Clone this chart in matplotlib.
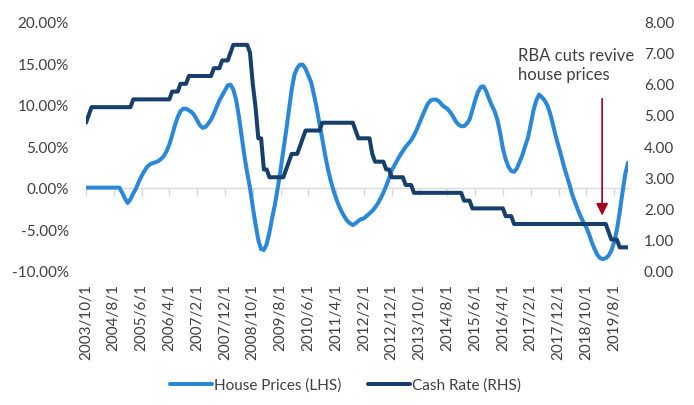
"""
House prices vs RBA cash rate, monthly 2003/10 - 2020/1
"""

import matplotlib
matplotlib.use('Agg')
import matplotlib.pyplot as plt
import numpy as np
import pandas as pd

plt.rcParams['font.family'] = ['Lato', 'DejaVu Sans']

# House price growth (% y/y, LHS), one row per calendar year, monthly from 2003/10
house_prices = [
    0.0, 0.0, 0.0,                                                        # 2003
    0.0, 0.0, 0.0, 0.0, 0.0, 0.0, 0.0, 0.0, 0.0, 0.0, -0.6, -1.3,         # 2004
    -1.85, -1.4, -0.7, -0.1, 0.7, 1.4, 2.0, 2.5, 2.8, 2.95, 3.05, 3.2,    # 2005
    3.45, 3.8, 4.4, 5.2, 6.3, 7.5, 8.5, 9.2, 9.5, 9.5, 9.3, 9.1,          # 2006
    8.7, 8.1, 7.5, 7.2, 7.3, 7.7, 8.2, 8.9, 9.7, 10.5, 11.1, 11.7,        # 2007
    12.3, 12.4, 11.8, 10.6, 8.6, 6.2, 3.8, 1.8, 0.0, -2.3, -4.4, -6.3,    # 2008
    -7.4, -7.5, -6.8, -5.4, -3.6, -2.0, 0.0, 2.1, 4.5, 6.8, 9.3, 11.8,    # 2009
    13.6, 14.4, 14.8, 14.8, 14.3, 13.5, 12.7, 11.2, 9.6, 7.7, 5.9, 4.0,   # 2010
    2.3, 0.9, -0.3, -1.3, -2.2, -2.9, -3.5, -4.0, -4.3, -4.5, -4.3, -4.0, # 2011
    -3.8, -3.7, -3.4, -3.1, -2.8, -2.4, -1.9, -1.3, -0.6, 0.2, 1.1, 2.1,  # 2012
    2.7, 3.3, 3.9, 4.4, 4.9, 5.3, 5.7, 6.3, 7.0, 7.8, 8.6, 9.4,           # 2013
    10.1, 10.5, 10.6, 10.6, 10.4, 10.0, 9.7, 9.5, 9.1, 8.6, 8.0, 7.6,     # 2014
    7.4, 7.4, 7.7, 8.2, 9.3, 10.5, 11.5, 12.1, 12.2, 11.6, 10.7, 9.9,     # 2015
    9.2, 8.2, 6.6, 4.7, 3.4, 2.5, 2.0, 1.9, 2.3, 3.1, 3.9, 5.0,           # 2016
    6.0, 7.6, 9.3, 10.5, 11.2, 10.9, 10.5, 9.9, 8.9, 7.6, 6.2, 5.0,       # 2017
    3.8, 2.5, 1.4, 0.3, -0.9, -1.8, -2.7, -3.5, -4.2, -4.8, -5.6, -6.6,   # 2018
    -7.4, -8.1, -8.5, -8.6, -8.5, -8.2, -7.6, -6.6, -5.1, -3.0, -0.6, 1.6, # 2019
    3.0,                                                                  # 2020
]

# RBA cash rate decisions (month of change, new target rate, RHS)
rate_dates = ['2003-10', '2003-11', '2003-12', '2005-03', '2006-05', '2006-08',
              '2006-11', '2007-08', '2007-11', '2008-02', '2008-03', '2008-09',
              '2008-10', '2008-11', '2008-12', '2009-02', '2009-04', '2009-10',
              '2009-11', '2009-12', '2010-03', '2010-04', '2010-05', '2010-11',
              '2011-11', '2011-12', '2012-05', '2012-06', '2012-10', '2012-12',
              '2013-05', '2013-08', '2015-02', '2015-05', '2016-05', '2016-08',
              '2019-06', '2019-07', '2019-10']
rate_levels = [4.75, 5.00, 5.25, 5.50, 5.75, 6.00, 6.25, 6.50, 6.75, 7.00, 7.25,
               7.00, 6.00, 5.25, 4.25, 3.25, 3.00, 3.25, 3.50, 3.75, 4.00, 4.25,
               4.50, 4.75, 4.50, 4.25, 3.75, 3.50, 3.25, 3.00, 2.75, 2.50, 2.25,
               2.00, 1.75, 1.50, 1.25, 1.00, 0.75]

dates = pd.date_range('2003-10-01', periods=len(house_prices), freq='MS')
decisions = pd.Series(rate_levels, index=pd.to_datetime(rate_dates))
cash_rate = decisions.reindex(dates, method='ffill')

x = np.arange(len(dates))
tick_pos = x[::10]
tick_labels = [f"{d.year}/{d.month}/{d.day}" for d in dates[::10]]

LIGHT = '#2A87D9'
DARK = '#173F6B'
TEXT = '#404040'

fig = plt.figure(figsize=(6.94, 4.06), dpi=100)
ax = fig.add_axes([0.1239, 0.3308, 0.781, 0.6138])
ax2 = ax.twinx()

ax.plot(x, house_prices, color=LIGHT, linewidth=2.9, solid_capstyle='round',
        solid_joinstyle='round', label='House Prices (LHS)')
ax2.plot(x, cash_rate.values, color=DARK, linewidth=2.9, solid_capstyle='round',
         solid_joinstyle='round', label='Cash Rate (RHS)')

ax.set_xlim(0, len(dates) - 1)
ax.set_ylim(-10, 20)
ax2.set_ylim(0, 8)

ax.set_yticks(np.arange(-10, 21, 5))
ax.set_yticklabels([f"{v:.2f}%" for v in np.arange(-10, 21, 5)])
ax2.set_yticks(np.arange(0, 9, 1))
ax2.set_yticklabels([f"{v:.2f}" for v in np.arange(0, 9, 1)])

ax.set_xticks(tick_pos)
ax.set_xticklabels(tick_labels, rotation=90)

for a in (ax, ax2):
    for s in a.spines.values():
        s.set_visible(False)
ax.tick_params(axis='y', length=0, pad=12.5, labelsize=11, labelcolor=TEXT)
ax2.tick_params(axis='y', length=0, pad=11.5, labelsize=11, labelcolor=TEXT)
ax.tick_params(axis='x', length=0, pad=9, labelsize=11, labelcolor=TEXT)

# category axis crosses at 0%
zero_axis = ax.secondary_xaxis(1 / 3)
zero_axis.set_xticks(tick_pos)
zero_axis.tick_params(axis='x', direction='out', length=6, width=1,
                      color='#D9D9D9', labelbottom=False, labeltop=False)
zero_axis.spines['bottom'].set_color('#D9D9D9')
zero_axis.spines['bottom'].set_linewidth(1)
for side in ('top', 'left', 'right'):
    zero_axis.spines[side].set_visible(False)
ax.set_zorder(ax2.get_zorder() - 1)
ax.patch.set_visible(False)

# annotation
ax2.text(155.5, 6.14, 'RBA cuts revive\nhouse prices', fontsize=12, color=TEXT,
         va='baseline', ha='left', linespacing=1.25)
ax2.annotate('', xy=(185.7, 1.77), xytext=(185.7, 5.52),
             arrowprops=dict(arrowstyle='-|>,head_length=0.4,head_width=0.2',
                             color='#A50021', lw=1.2, mutation_scale=18,
                             shrinkA=0, shrinkB=0))

h1, l1 = ax.get_legend_handles_labels()
h2, l2 = ax2.get_legend_handles_labels()
leg = fig.legend(h1 + h2, l1 + l2, loc='center', bbox_to_anchor=(0.498, 0.05),
                 ncol=2, frameon=False, fontsize=11, handlelength=2.76,
                 handletextpad=0.15, columnspacing=1.7)
for t in leg.get_texts():
    t.set_color(TEXT)

fig.savefig('out.png', dpi=100)
